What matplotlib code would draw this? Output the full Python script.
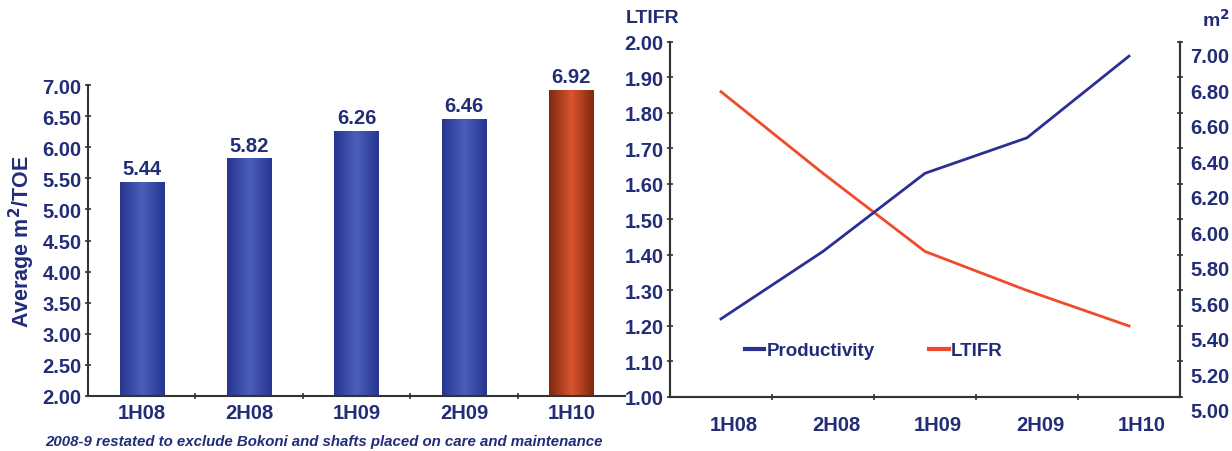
import matplotlib.pyplot as plt
import matplotlib.transforms as mtransforms
from matplotlib.colors import LinearSegmentedColormap
from matplotlib.lines import Line2D
import numpy as np

plt.rcParams['font.family'] = ['Liberation Sans', 'DejaVu Sans']
plt.rcParams['font.weight'] = 'bold'

# Data
periods = ['1H08', '2H08', '1H09', '2H09', '1H10']
productivity = [5.44, 5.82, 6.26, 6.46, 6.92]
ltifr = [1.86, 1.63, 1.41, 1.30, 1.20]
footnote = '2008-9 restated to exclude Bokoni and shafts placed on care and maintenance'

navy = '#222d78'
axis_col = '#333333'
blue_line = '#2c2f92'
red_line = '#f04a2a'
fs = 14.5

fig = plt.figure(figsize=(12.32, 4.52), dpi=100)

# ---- left: bar chart ----
ax1 = fig.add_axes([0.0714, 0.1217, 0.4359, 0.688])
x = np.arange(len(periods))
base = 2.0
bars = ax1.bar(x, np.array(productivity) - base, width=0.41, bottom=base,
               color='none', zorder=2)

blue_cmap = LinearSegmentedColormap.from_list('bl', ['#27358f', '#4a5fbc', '#27358f'])
red_cmap = LinearSegmentedColormap.from_list('rd', ['#7f2810', '#da5530', '#7f2810'])
grad = np.linspace(0, 1, 64).reshape(1, -1)
for i, b in enumerate(bars):
    cmap = red_cmap if i == len(bars) - 1 else blue_cmap
    x0, w = b.get_x(), b.get_width()
    top = b.get_y() + b.get_height()
    im = ax1.imshow(grad, cmap=cmap, aspect='auto',
                    extent=(x0, x0 + w, b.get_y(), top), zorder=2)
    im.set_clip_path(b)
    ax1.text(x0 + w / 2, top + 0.06, f'{productivity[i]:.2f}', ha='center',
             va='bottom', fontsize=fs, color=navy, fontweight='bold')

ax1.set_xlim(-0.5, len(periods) - 0.5)
ax1.set_ylim(2, 7)
ax1.set_yticks(np.arange(2, 7.01, 0.5))
ax1.set_yticklabels([f'{v:.2f}' for v in np.arange(2, 7.01, 0.5)])
ax1.set_xticks(x)
ax1.set_xticklabels(periods)
ax1.set_xticks(np.arange(0.5, len(periods) - 0.5, 1), minor=True)
ax1.tick_params(axis='x', which='major', length=0, pad=5, labelsize=fs,
                labelcolor=navy)
ax1.tick_params(axis='x', which='minor', length=5, direction='inout',
                color=axis_col, width=1.2)
ax1.tick_params(axis='y', length=5, direction='inout', color=axis_col,
                width=1.2, labelsize=fs, labelcolor=navy, pad=2)
for s in ['top', 'right']:
    ax1.spines[s].set_visible(False)
for s in ['left', 'bottom']:
    ax1.spines[s].set_color(axis_col)
    ax1.spines[s].set_linewidth(1.5)
ax1.set_ylabel('Average m$^\\mathbf{2}$/TOE', fontsize=15.5, color=navy,
               fontweight='bold', labelpad=4)
fig.text(0.263, 0.006, footnote, ha='center', va='bottom', fontsize=10.8,
         style='italic', fontweight='bold', color=navy)

# ---- right: productivity vs LTIFR ----
ax2 = fig.add_axes([0.5438, 0.1195, 0.414, 0.7855])
ax3 = ax2.twinx()

ax2.plot(x, ltifr, color=red_line, lw=2.0, zorder=3)
ax3.plot(x, productivity, color=blue_line, lw=2.0, zorder=3)

ax2.set_xlim(-0.5, len(periods) - 0.5)
ax2.set_ylim(1.0, 2.0)
ax3.set_ylim(5.0, 7.0)
lt_ticks = np.arange(1.0, 2.001, 0.1)
m2_ticks = np.arange(5.0, 7.001, 0.2)
ax2.set_yticks(lt_ticks)
ax2.set_yticklabels([f'{v:.2f}' for v in lt_ticks])
ax3.set_yticks(m2_ticks)
ax3.set_yticklabels([f'{v:.2f}' for v in m2_ticks])
ax2.set_xticks(x)
ax2.set_xticklabels(periods)
ax2.set_xticks(np.arange(0.5, len(periods) - 0.5, 1), minor=True)

ax2.tick_params(axis='x', which='major', length=0, pad=13, labelsize=fs,
                labelcolor=navy)
ax2.tick_params(axis='x', which='minor', length=5, direction='inout',
                color=axis_col, width=1.2)
ax2.tick_params(axis='y', length=5, direction='inout', color=axis_col,
                width=1.2, labelsize=fs, labelcolor=navy, pad=2)
ax3.tick_params(axis='y', length=5, direction='inout', color=axis_col,
                width=1.2, labelsize=fs, labelcolor=navy, pad=5)

for a in (ax2, ax3):
    a.spines['top'].set_visible(False)
    for s in ['left', 'bottom', 'right']:
        a.spines[s].set_color(axis_col)
        a.spines[s].set_linewidth(1.5)

# category and m2 labels sit a little off their ticks
shift_right = mtransforms.ScaledTranslation(13 / 100, 0, fig.dpi_scale_trans)
shift_down = mtransforms.ScaledTranslation(0, -13 / 100, fig.dpi_scale_trans)
for lab in ax2.get_xticklabels():
    lab.set_transform(lab.get_transform() + shift_right)
for lab in ax3.get_yticklabels():
    lab.set_transform(lab.get_transform() + shift_down)

handles = [Line2D([], [], color=blue_line, lw=3),
           Line2D([], [], color=red_line, lw=3)]
leg = ax2.legend(handles, ['Productivity', 'LTIFR'], ncol=2, frameon=False,
                 loc='center left', bbox_to_anchor=(0.128, 0.13),
                 handlelength=1.05, handletextpad=0.12, columnspacing=2.9,
                 borderpad=0, prop={'size': 13.5, 'weight': 'bold'})
for t in leg.get_texts():
    t.set_color(navy)

fig.text(0.508, 0.96, 'LTIFR', ha='left', va='center', fontsize=14,
         color=navy, fontweight='bold')
fig.text(0.998, 0.955, 'm$^\\mathbf{2}$', ha='right', va='center', fontsize=14,
         color=navy, fontweight='bold')

fig.savefig('out.png', dpi=100)
